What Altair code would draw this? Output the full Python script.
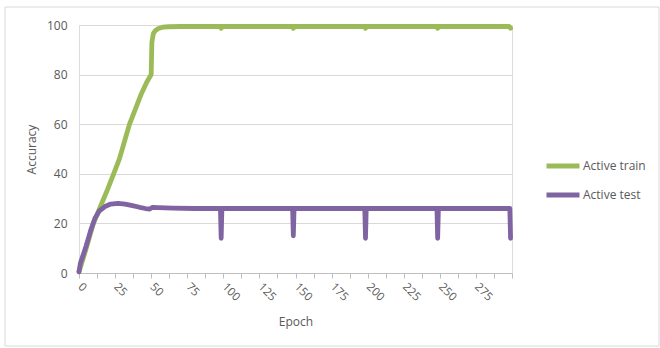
import altair as alt
import pandas as pd

# Active train: (epoch, accuracy)
train_epochs = [0, 3, 6, 10, 15, 20, 24, 28, 31, 35, 39, 43, 47, 50, 50.5, 51.5, 53, 55, 58, 62, 70, 98, 98.5, 99, 148, 148.5, 149, 198, 198.5, 199, 248, 248.5, 249, 298, 299]
train_acc = [0.5, 6, 12, 20, 27, 34, 40, 46, 52, 60, 66, 72, 77, 80, 93, 96.5, 97.8, 98.6, 99.1, 99.3, 99.4, 99.4, 98.7, 99.4, 99.4, 98.7, 99.4, 99.4, 98.7, 99.4, 99.4, 98.7, 99.4, 99.4, 98.7]

# Active test: (epoch, accuracy)
test_epochs = [0, 1, 3, 5, 8, 11, 14, 18, 22, 27, 32, 37, 42, 46, 49, 51, 55, 65, 80, 98, 98.5, 99, 148, 148.5, 149, 198, 198.5, 199, 248, 248.5, 249, 298.5, 299]
test_acc = [0.5, 4, 7.5, 11, 17, 22, 25, 26.8, 27.8, 28.1, 27.8, 27.2, 26.5, 26, 25.8, 26.5, 26.4, 26.2, 26, 26, 14, 26, 26, 15, 26, 26, 14, 26, 26, 14, 26, 26, 14]

series_names = ["Active train", "Active test"]
series_colors = ["#9BBB59", "#8064A2"]

x_tick_values = [i * 12.5 for i in range(25)]

df = pd.concat([
    pd.DataFrame({"Epoch": train_epochs, "Accuracy": train_acc, "Series": series_names[0], "order": range(len(train_epochs))}),
    pd.DataFrame({"Epoch": test_epochs, "Accuracy": test_acc, "Series": series_names[1], "order": range(len(test_epochs))}),
])

font = "Open Sans"
gray = "#595959"

border = alt.Chart(pd.DataFrame({"a": [0]})).mark_rect(
    fillOpacity=0, stroke="#d9d9d9", strokeWidth=1
).encode(
    x=alt.value(-74), x2=alt.value(580), y=alt.value(-18), y2=alt.value(321)
)

lines = alt.Chart(df).mark_line(
    strokeWidth=4.8, strokeCap="round", strokeJoin="round"
).encode(
    x=alt.X("Epoch:Q",
            scale=alt.Scale(domain=[0, 300], nice=False, zero=True),
            axis=alt.Axis(
                values=x_tick_values,
                labelExpr="(datum.value % 25 == 0 && datum.value < 300) ? datum.label : ''",
                labelAngle=45, labelAlign="left", labelBaseline="middle",
                labelPadding=7, labelFontSize=11.5, labelColor=gray, labelFont=font,
                tickSize=5, tickColor="#bfbfbf", domainColor="#bfbfbf",
                grid=False, title="Epoch", titleFont=font, titleFontSize=12,
                titleFontWeight="normal", titleColor=gray, titlePadding=14,
            )),
    y=alt.Y("Accuracy:Q",
            scale=alt.Scale(domain=[0, 100], nice=False),
            axis=alt.Axis(
                values=[0, 20, 40, 60, 80, 100], domain=False, ticks=False,
                labelPadding=12, labelFontSize=12, labelColor=gray, labelFont=font,
                gridColor="#d9d9d9", gridWidth=1,
                title="Accuracy", titleFont=font, titleFontSize=12,
                titleFontWeight="normal", titleColor=gray, titlePadding=8,
            )),
    color=alt.Color("Series:N",
                    scale=alt.Scale(domain=series_names, range=series_colors),
                    legend=alt.Legend(
                        title=None, orient="none", legendX=465, legendY=122,
                        symbolType="stroke", symbolSize=1089, symbolStrokeWidth=4.8,
                        labelOffset=1, labelFontSize=12, labelColor=gray, labelFont=font,
                        rowPadding=-1,
                    )),
    order="order:Q",
)

chart = alt.layer(border, lines).properties(
    width=433, height=248,
    autosize=alt.AutoSizeParams(type="none"),
    padding={"left": 79, "top": 25, "right": 148, "bottom": 75},
).configure_view(stroke=None).configure(background="white")

chart.save("out.html", embed_options={"renderer": "svg", "actions": False})
